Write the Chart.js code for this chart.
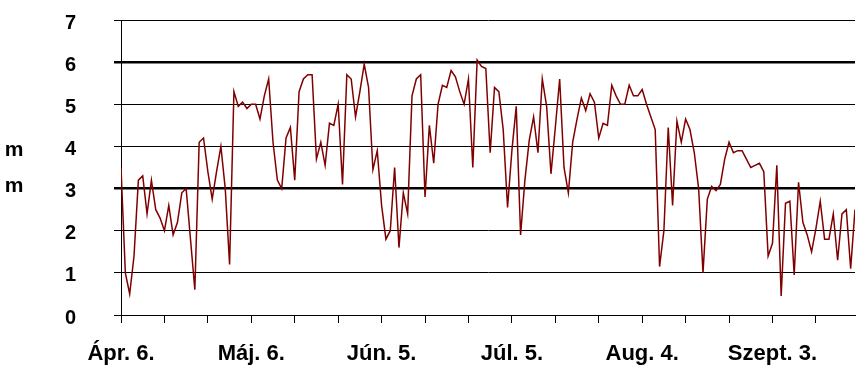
<!DOCTYPE html>
<html>
<head>
<meta charset="utf-8">
<script src="https://cdn.jsdelivr.net/npm/chart.js@4.4.1/dist/chart.umd.min.js"></script>
<style>
  html, body { margin: 0; padding: 0; background: #fff; }
  #wrap { width: 867px; height: 370px; position: relative; }
</style>
</head>
<body>
<div id="wrap"><canvas id="chart"></canvas></div>
<script>
// daily values, Apr 6 .. Sep 22 (mm)
const mm = [
  3.5, 1.0, 0.5, 1.4, 3.2, 3.3, 2.4, 3.2, 2.5, 2.3,
  2.0, 2.6, 1.9, 2.2, 2.9, 3.0, 1.8, 0.6, 4.1, 4.2,
  3.4, 2.75, 3.4, 4.0, 3.0, 1.2, 5.3, 4.95, 5.05, 4.9,
  5.0, 5.0, 4.65, 5.2, 5.6, 4.1, 3.2, 3.0, 4.2, 4.45,
  3.2, 5.3, 5.6, 5.7, 5.7, 3.7, 4.1, 3.55, 4.55, 4.5,
  5.0, 3.1, 5.7, 5.6, 4.7, 5.3, 5.95, 5.4, 3.45, 3.9,
  2.6, 1.8, 2.0, 3.5, 1.6, 2.9, 2.4, 5.2, 5.6, 5.7,
  2.8, 4.5, 3.6, 5.0, 5.45, 5.4, 5.8, 5.65, 5.3, 5.0,
  5.6, 3.5, 6.05, 5.9, 5.85, 3.85, 5.4, 5.3, 4.4, 2.55,
  3.9, 4.95, 1.9, 3.2, 4.15, 4.7, 3.85, 5.6, 4.95, 3.35,
  4.45, 5.6, 3.5, 2.9, 4.1, 4.65, 5.15, 4.85, 5.25, 5.05,
  4.2, 4.55, 4.5, 5.45, 5.2, 5.0, 5.0, 5.45, 5.2, 5.2,
  5.35, 5.0, 4.7, 4.4, 1.15, 2.0, 4.45, 2.6, 4.6, 4.1,
  4.65, 4.4, 3.85, 3.0, 1.0, 2.75, 3.05, 2.95, 3.1, 3.7,
  4.1, 3.85, 3.9, 3.9, 3.7, 3.5, 3.55, 3.6, 3.4, 1.4,
  1.7, 3.55, 0.45, 2.65, 2.7, 0.95, 3.15, 2.2, 1.9, 1.5,
  2.05, 2.7, 1.8, 1.8, 2.4, 1.3, 2.4, 2.5, 1.1, 2.5
];
// one label every 30 days, tick marks every 10 days
const tickLabels = ['Ápr. 6.', 'Máj. 6.', 'Jún. 5.', 'Júl. 5.', 'Aug. 4.', 'Szept. 3.'];
const thickLines = [3, 6];
const yTitle = ['m', 'm'];

const boldFont = '"Liberation Sans", Arial, sans-serif';

const sideTitle = {
  id: 'sideTitle',
  afterDraw(chart) {
    const ctx = chart.ctx;
    ctx.save();
    ctx.font = 'bold 21px ' + boldFont;
    ctx.fillStyle = '#000';
    ctx.textAlign = 'center';
    ctx.textBaseline = 'middle';
    ctx.fillText(yTitle[0], 14, 150);
    ctx.fillText(yTitle[1], 14, 186);
    ctx.restore();
  }
};

new Chart(document.getElementById('chart'), {
  type: 'line',
  data: {
    datasets: [{
      data: mm.map((v, i) => ({x: i, y: v})),
      borderColor: '#800000',
      borderWidth: 1.5,
      pointRadius: 0,
      tension: 0,
      fill: false
    }]
  },
  options: {
    responsive: true,
    maintainAspectRatio: false,
    animation: false,
    layout: { padding: { top: 20, right: 12, left: 0, bottom: 0 } },
    plugins: { legend: { display: false }, tooltip: { enabled: false } },
    scales: {
      x: {
        type: 'linear',
        min: 0,
        max: mm.length - 1,
        afterFit: (s) => { s.height = 55; s.paddingLeft = 0; s.paddingRight = 0; },
        border: { color: '#000', width: 1 },
        grid: { drawOnChartArea: false, drawTicks: true, tickLength: 8, color: '#000', lineWidth: 1 },
        ticks: {
          stepSize: 10,
          includeBounds: false,
          autoSkip: false,
          maxRotation: 0,
          padding: 18,
          color: '#000',
          font: { family: boldFont, size: 22, weight: 'bold' },
          callback: (v) => (v % 30 === 0 ? tickLabels[v / 30] : '')
        }
      },
      y: {
        min: 0,
        max: 7,
        afterFit: (s) => { s.width = 121; s.paddingTop = 0; s.paddingBottom = 0; },
        border: { color: '#000', width: 1 },
        grid: {
          color: '#000',
          tickLength: 7,
          lineWidth: (c) => (thickLines.includes(c.tick.value) ? 2.5 : 1)
        },
        ticks: {
          stepSize: 1,
          padding: 38,
          labelOffset: 3,
          color: '#000',
          font: { family: boldFont, size: 20, weight: 'bold' }
        }
      }
    }
  },
  plugins: [sideTitle]
});
</script>
</body>
</html>
